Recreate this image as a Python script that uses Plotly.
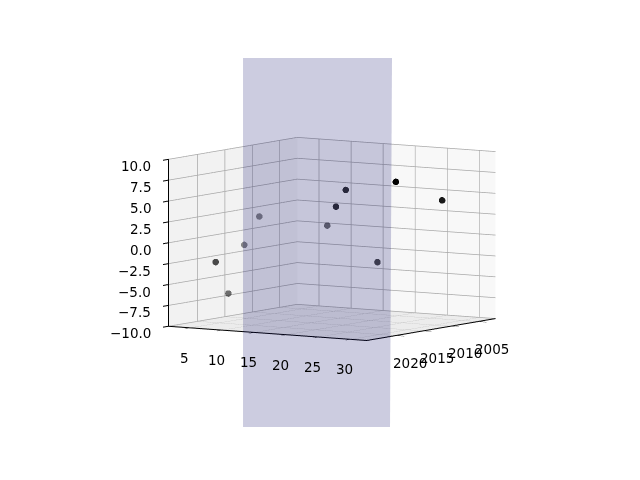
import plotly.graph_objects as go

# Data
x_values = [31.3, 31.6, 20.0, 18.9, 20.75, 2.45, 11.05, 2.05, 2.05, 2.35]
y_values = [2018.6, 2010.5, 2014.5, 2015.0, 2009.6, 2017.7, 2007.4, 2014.9, 2012.0, 2009.6]
z_values = [8.2, 5.1, 6.15, 4.15, -3.0, -3.1, 0.6, -7.2, -1.7, 1.45]
alphas = [1.0, 0.9, 0.8, 0.8, 0.7, 0.7, 0.55, 0.55, 0.45, 0.45]
x_ticks = [5, 10, 15, 20, 25, 30]
y_ticks = [2005, 2010, 2015, 2020]
z_ticks = [-10, -7.5, -5, -2.5, 0, 2.5, 5, 7.5, 10]
z_labels = ["\u221210.0", "\u22127.5", "\u22125.0", "\u22122.5", "0.0", "2.5", "5.0", "7.5", "10.0"]
x_range = [1.6, 32.5]
y_range = [2025.3, 2001.8]
z_range = [-10, 10]
plane_px = [(243, 58), (392, 58), (390, 427), (243, 427)]
PAGE_OFFSET = 8


def to_path(points, w=640, h=480):
    parts = [f"{'M' if i == 0 else 'L'} {(px - PAGE_OFFSET) / w:.4f} {1 - (py - PAGE_OFFSET) / h:.4f}"
             for i, (px, py) in enumerate(points)]
    return " ".join(parts) + " Z"


axis_style = dict(
    showgrid=True, gridcolor="#a8a8a8", gridwidth=1.5,
    zeroline=False, showline=True, linecolor="black", linewidth=2,
    ticks="outside", ticklen=10, tickcolor="black", tickwidth=2, showticklabels=False,
    showspikes=False, showbackground=True, title=dict(text=""),
    autorange=False,
)

label_font = dict(family="DejaVu Sans", size=13.5, color="black")
annotations = []
for v in x_ticks:
    annotations.append(dict(x=v, y=y_range[0], z=z_range[0], text=str(v), showarrow=False,
                            xshift=-6, yshift=-30, font=label_font))
for v in y_ticks:
    annotations.append(dict(x=x_range[1], y=v, z=z_range[0], text=str(v), showarrow=False,
                            xshift=14, yshift=-27, font=label_font))
for v, t in zip(z_ticks, z_labels):
    annotations.append(dict(x=x_range[0], y=y_range[0], z=v, text=t, showarrow=False,
                            xanchor="right", xshift=-15, yshift=-7, font=label_font))

fig = go.Figure(go.Scatter3d(
    x=x_values, y=y_values, z=z_values, mode="markers",
    marker=dict(size=3.8, color=[f"rgba(0,0,0,{a})" for a in alphas], line=dict(width=0)),
    hoverinfo="skip",
))
fig.update_layout(
    width=640, height=480, autosize=False, showlegend=False,
    paper_bgcolor="white", margin=dict(l=0, r=0, t=0, b=0),
    scene=dict(
        domain=dict(x=[0, 1], y=[0, 1]),
        xaxis=dict(range=x_range, tickvals=x_ticks, backgroundcolor="#f2f2f2", **axis_style),
        yaxis=dict(range=y_range, tickvals=y_ticks, backgroundcolor="#f8f8f8", **axis_style),
        zaxis=dict(range=z_range, tickvals=z_ticks, backgroundcolor="#ececec", **axis_style),
        aspectmode="manual", aspectratio=dict(x=0.985, y=0.985, z=0.70),
        camera=dict(eye=dict(x=1.087, y=-1.705, z=0.187), up=dict(x=0, y=0, z=1),
                    center=dict(x=-0.014, y=-0.009, z=-0.038), projection=dict(type="orthographic")),
        annotations=annotations,
    ),
    shapes=[dict(type="path", path=to_path(plane_px), xref="paper", yref="paper",
                 fillcolor="rgba(0,0,102,0.2)", line=dict(width=0), layer="above")],
)
fig.write_html("out.html")
